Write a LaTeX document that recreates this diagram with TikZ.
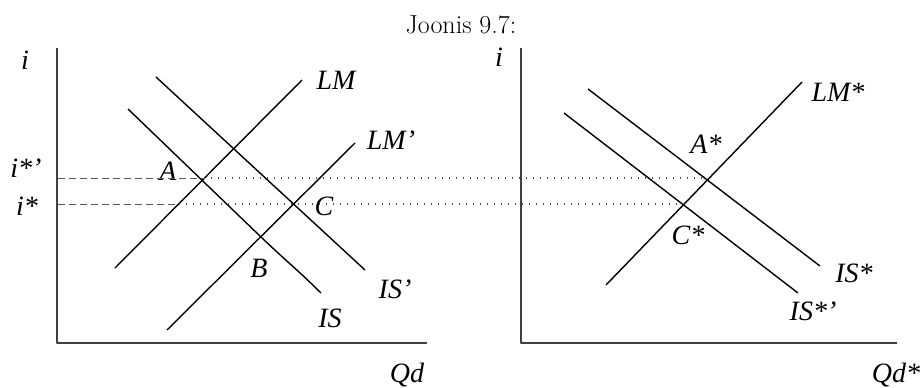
\documentclass[tikz,border=0pt]{standalone}
\usepackage{fontspec}
\newfontfamily\lblfont[Ligatures=TeX]{Liberation Serif}
\usetikzlibrary{positioning}

\begin{document}
\begin{tikzpicture}[
  x=1pt, y=-1pt,
  line join=round,
  curve/.style={line width=1.4pt, draw=black},
  axis/.style={line width=1.2pt, draw=black!75},
  guide/.style={draw=black!65, line width=1pt, dash pattern=on 7pt off 4pt},
  dots/.style={draw=black!70, line width=1.2pt, dash pattern=on 1.2pt off 5.8pt},
  lbl/.style={font=\lblfont\itshape\fontsize{28}{30}\selectfont, inner sep=0pt},
  title/.style={font=\fontsize{26}{28}\selectfont, inner sep=0pt}
]
\useasboundingbox (0,0) rectangle (921,388);

\node[title] (ttl) at (461,25) {Joonis 9.7:};

%% left panel: IS-LM
\coordinate (o1) at (57,343);
\coordinate (y1) at (57,48);
\coordinate (x1) at (427,343);
\draw[axis] (y1) -- (o1) -- (x1);
\node[lbl] (i1)   at (25,60)   {i};
\node[lbl] (is2)  at (26,168)  {i*'};
\node[lbl] (is1)  at (27,206)  {i*};
\node[lbl] (qd)   at (407,375) {Qd};

\coordinate (lmA) at (115,268); \coordinate (lmB) at (302,80);
\coordinate (lmpA) at (167,330); \coordinate (lmpB) at (355,143);
\coordinate (ispA) at (156,77); \coordinate (ispB) at (365,270);
\coordinate (isA) at (128,109); \coordinate (isB) at (261,237);
\coordinate (isC) at (321,293);
\draw[curve] (lmA) -- (lmB);
\draw[curve] (lmpA) -- (lmpB);
\draw[curve] (ispA) -- (ispB);
\draw[curve] (isA) -- (isB) .. controls (285,260) and (300,272) .. (isC);

\node[lbl] (lLM)  at (336,80)  {LM};
\node[lbl] (lLMp) at (391,140) {LM'};
\node[lbl] (lISp) at (395,289) {IS'};
\node[lbl] (lIS)  at (330,318) {IS};
\node[lbl] (pA)   at (168,171) {A};
\node[lbl] (pB)   at (259,268) {B};
\node[lbl] (pC)   at (324,206) {C};

%% right panel: IS*-LM*
\coordinate (o2) at (521,343);
\coordinate (y2) at (521,48);
\coordinate (x2) at (897,343);
\draw[axis] (y2) -- (o2) -- (x2);
\node[lbl] (i2)   at (499,57)  {i};
\node[lbl] (qds)  at (896,375) {Qd*};

\coordinate (lmsA) at (606,285); \coordinate (lmsB) at (802,82);
\coordinate (issA) at (588,89);  \coordinate (issB) at (820,266);
\coordinate (isspA) at (564,113); \coordinate (isspB) at (798,293);
\draw[curve] (lmsA) -- (lmsB);
\draw[curve] (issA) -- (issB);
\draw[curve] (isspA) -- (isspB);

\node[lbl] (lLMs)  at (838,92)  {LM*};
\node[lbl] (lISs)  at (854,273) {IS*};
\node[lbl] (lISsp) at (813,311) {IS*'};
\node[lbl] (pAs)   at (706,144) {A*};
\node[lbl] (pCs)   at (688,235) {C*};

%% interest-rate guides
\coordinate (g2a) at (58,178);  \coordinate (g2b) at (204,178);
\coordinate (g2c) at (707,178);
\coordinate (g1a) at (58,204);  \coordinate (g1b) at (179,204);
\coordinate (g1c) at (681,204);
\draw[guide] (g2a) -- (g2b);
\draw[dots]  (g2b) -- (g2c);
\draw[guide] (g1a) -- (g1b);
\draw[dots]  (g1b) -- (g1c);
\end{tikzpicture}
\end{document}
